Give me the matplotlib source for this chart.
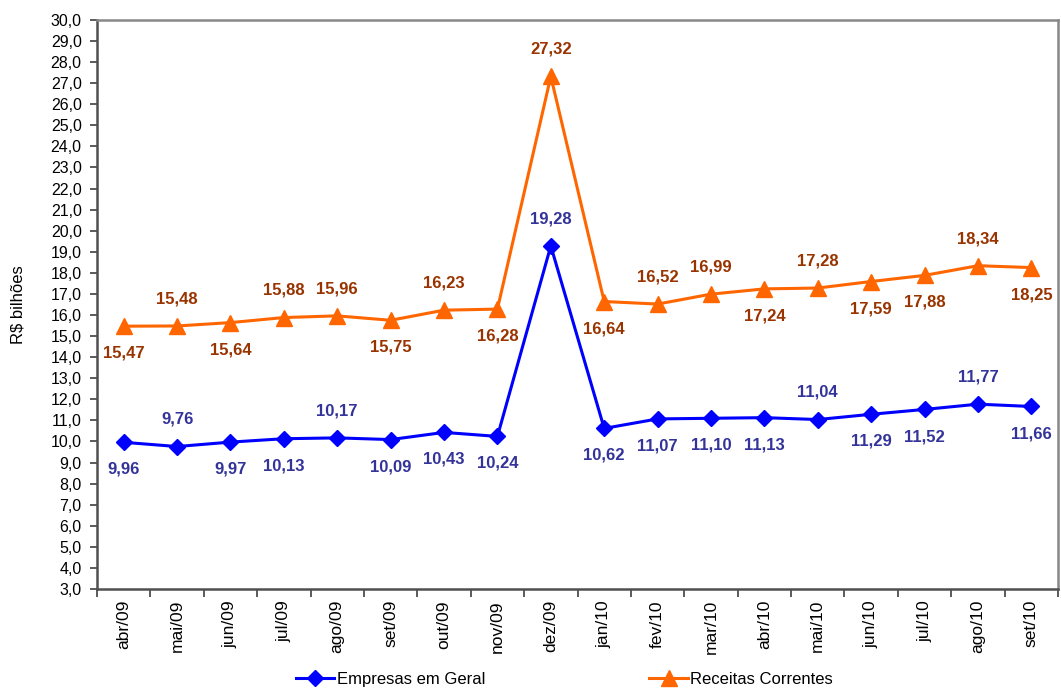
import matplotlib
matplotlib.use("Agg")
import matplotlib.pyplot as plt
from matplotlib.ticker import FixedLocator, FuncFormatter

plt.rcParams['font.family'] = ['Liberation Sans', 'DejaVu Sans']

# Monthly collection, R$ billions
months = ["abr/09", "mai/09", "jun/09", "jul/09", "ago/09", "set/09", "out/09",
          "nov/09", "dez/09", "jan/10", "fev/10", "mar/10", "abr/10", "mai/10",
          "jun/10", "jul/10", "ago/10", "set/10"]
empresas = [9.96, 9.76, 9.97, 10.13, 10.17, 10.09, 10.43, 10.24, 19.28, 10.62,
            11.07, 11.10, 11.13, 11.04, 11.29, 11.52, 11.77, 11.66]
receitas = [15.47, 15.48, 15.64, 15.88, 15.96, 15.75, 16.23, 16.28, 27.32, 16.64,
            16.52, 16.99, 17.24, 17.28, 17.59, 17.88, 18.34, 18.25]

# where each value label sits relative to its marker: above (+1) or below (-1)
empresas_side = [-1, 1, -1, -1, 1, -1, -1, -1, 1, -1, -1, -1, -1, 1, -1, -1, 1, -1]
receitas_side = [-1, 1, -1, 1, 1, -1, 1, -1, 1, -1, 1, 1, -1, 1, -1, -1, 1, -1]

blue = "#0000FF"
orange = "#FF6600"
blue_txt = "#333399"
orange_txt = "#993300"

fig = plt.figure(figsize=(10.61, 6.88), dpi=100)
ax = fig.add_axes([0.0914, 0.1439, 0.9058, 0.8271])

x = list(range(len(months)))
l1, = ax.plot(x, empresas, color=blue, lw=2.2, marker="D", markersize=8.5,
              markeredgecolor=blue, label="Empresas em Geral", zorder=3)
l2, = ax.plot(x, receitas, color=orange, lw=2.2, marker="^", markersize=12,
              markeredgecolor=orange, label="Receitas Correntes", zorder=3)

def fmt(v):
    return f"{v:.2f}".replace(".", ",")

for xi, v, s in zip(x, empresas, empresas_side):
    ax.annotate(fmt(v), (xi, v), xytext=(0, 19.5 * s), textcoords="offset points",
                ha="center", va="center", fontsize=12, fontweight="bold",
                color=blue_txt, zorder=4)
for xi, v, s in zip(x, receitas, receitas_side):
    ax.annotate(fmt(v), (xi, v), xytext=(0, 19.5 * s), textcoords="offset points",
                ha="center", va="center", fontsize=12, fontweight="bold",
                color=orange_txt, zorder=4)

ax.set_xlim(-0.5, len(months) - 0.5)
ax.set_ylim(3.0, 30.0)

# y axis
ax.yaxis.set_major_locator(FixedLocator([float(v) for v in range(3, 31)]))
ax.yaxis.set_major_formatter(FuncFormatter(lambda v, p: f"{v:.1f}".replace(".", ",")))
ax.tick_params(axis="y", which="major", direction="out", length=5, width=1.2,
               color="#404040", labelsize=11.5, pad=6)

# x axis: labels at category centres, tick marks on category boundaries
ax.set_xticks(x)
ax.set_xticklabels(months, rotation=90, fontsize=12.5)
ax.set_xticks([i - 0.5 for i in range(len(months) + 1)], minor=True)
ax.tick_params(axis="x", which="major", length=0, pad=8)
ax.tick_params(axis="x", which="minor", direction="out", length=6, width=1.2,
               color="#404040")

ax.set_ylabel("R$ bilhões", fontsize=12)
ax.yaxis.set_label_coords(-0.074, 0.5)

for side in ("left", "bottom"):
    ax.spines[side].set_color("#505050")
    ax.spines[side].set_linewidth(1.8)
for side in ("top", "right"):
    ax.spines[side].set_color("#888888")
    ax.spines[side].set_linewidth(1.8)

fig.legend(handles=[l1, l2], loc="center", bbox_to_anchor=(0.532, 0.0125),
           ncol=2, frameon=False, fontsize=12, handlelength=2.3,
           handletextpad=0.15, columnspacing=9.85, borderaxespad=0)

fig.savefig("out.png", dpi=100)
